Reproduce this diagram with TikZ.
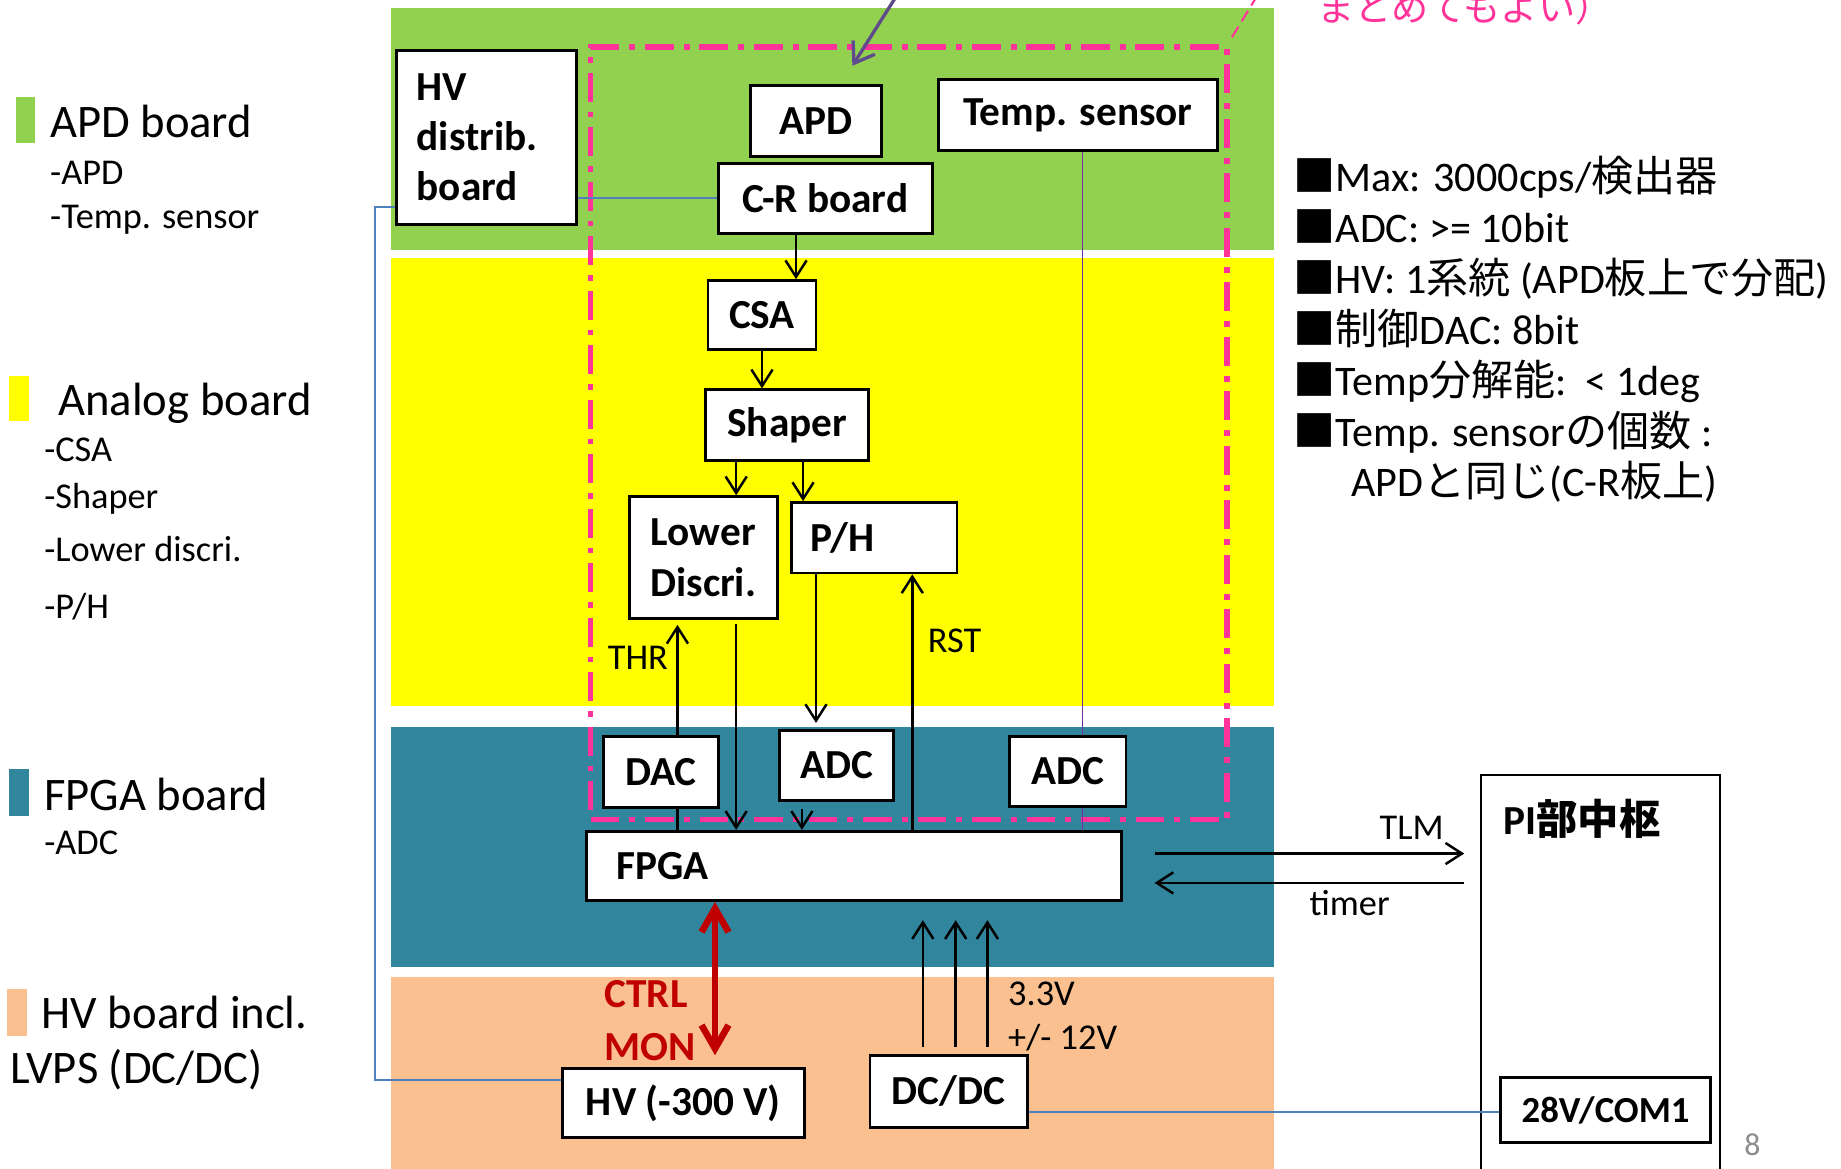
\documentclass[tikz,border=0pt]{standalone}
\usepackage{fontspec}
\usepackage{tikz}
\usepackage{xcolor}
\usetikzlibrary{arrows.meta, calc, positioning}
\setmainfont{Carlito}
\newfontfamily\jp{Noto Sans CJK JP}
\definecolor{APD_Green}{HTML}{92D050}
\definecolor{Analog_Yellow}{HTML}{FFFF00}
\definecolor{FPGA_Teal}{HTML}{31859C}
\definecolor{HV_Peach}{HTML}{FAC090}
\definecolor{Group_Pink}{HTML}{FF3399}
\definecolor{Note_Violet}{HTML}{5F4B8B}
\definecolor{Wire_Blue}{HTML}{4F81BD}
\definecolor{Temp_Purple}{HTML}{7030A0}
\definecolor{Ctrl_Red}{HTML}{C00000}
\definecolor{Page_Gray}{HTML}{8C8C8C}
\newcommand{\boxfont}{\fontsize{10}{12.2}\selectfont\bfseries}
\newcommand{\headfont}{\fontsize{11.3}{13}\selectfont}
\newcommand{\itemfont}{\fontsize{8.8}{10}\selectfont}
\newcommand{\specfont}{\fontsize{10.2}{12}\selectfont}
\newcommand{\notefont}{\fontsize{9}{10}\selectfont}
\tikzset{
    blk/.style={draw, fill=white, line width=0.7pt, inner sep=0pt, font=\boxfont},
    wh/.style 2 args={minimum width=#1*0.01cm, minimum height=#2*0.01cm},
    txt/.style={inner sep=0pt, anchor=base west},
    sig/.style={-{Straight Barb[length=1.4mm, width=1.8mm]}, line width=0.6pt},
    wire/.style={Wire_Blue, line width=0.5pt},
    tline/.style={Temp_Purple, line width=0.4pt},
    ctrl/.style={{Straight Barb[length=2mm, width=2.3mm]}-{Straight Barb[length=2mm, width=2.3mm]}, line width=1.6pt, Ctrl_Red},
}

\begin{document}
\begin{tikzpicture}[x=0.01cm, y=-0.01cm]
    \useasboundingbox (0,0) rectangle (1568,995);
    \fill[APD_Green]     (333,7)   rectangle (1085,213);
    \fill[Analog_Yellow] (333,220) rectangle (1085,601);
    \fill[FPGA_Teal]     (333,619) rectangle (1085,824);
    \fill[HV_Peach]      (333,832) rectangle (1085,1010);

    \fill[APD_Green]     (14,83)  rectangle (30,122);
    \fill[Analog_Yellow] (8,320)  rectangle (25,359);
    \fill[FPGA_Teal]     (8,655)  rectangle (25,695);
    \fill[HV_Peach]      (6,842)  rectangle (23,882);
    \node[txt, font=\headfont] (lg-apd) at (42,117) {APD board};
    \node[txt, font=\itemfont] (lg-apd1) at (42,157) {-APD};
    \node[txt, font=\itemfont] (lg-apd2) at (42,195) {-Temp. sensor};
    \node[txt, font=\headfont] (lg-ana) at (49,354) {Analog board};
    \foreach \yy/\lbl [count=\i] in {393/-CSA, 433/-Shaper, 478/{-Lower discri.}, 527/{-P/H}}
        \node[txt, font=\itemfont] (lg-ana\i) at (37,\yy) {\lbl};
    \node[txt, font=\headfont] (lg-fpga) at (37,690) {FPGA board};
    \node[txt, font=\itemfont] (lg-fpga1) at (37,728) {-ADC};
    \node[txt, font=\headfont] (lg-hv) at (35,876) {HV board incl.};
    \node[txt, font=\headfont] (lg-lvps) at (8,923) {LVPS (DC/DC)};

    \node[draw=Group_Pink, line width=1.3pt, dash pattern=on 7pt off 2.4pt on 1.4pt off 2.4pt,
        wh={542}{658}, inner sep=0pt] (grp) at (774,369) {};
    \coordinate (grp-tail) at (1071,-4);
    \draw[Group_Pink, line width=0.5pt, dash pattern=on 3pt off 1.5pt] ($(grp.north east)+(2,-6)$) -- (grp-tail);
    \node[txt, font=\notefont, text=Group_Pink] (note) at (1121,18) {\jp まとめてもよい）};
    \coordinate (note-tail) at (774,-20);
    \coordinate (note-tip) at (726,56);
    \draw[Note_Violet, line width=0.8pt, -{Straight Barb[length=1.6mm, width=2.2mm]}] (note-tail) -- (note-tip);

    \node[blk, wh={153}{148}, inner xsep=0.17cm, text width=1.19cm, align=left] (hvd) at (414.5,117) {HV\\distrib.\\board};
    \node[blk, wh={112}{60}] (apd) at (695,103) {APD};
    \node[blk, wh={238}{60}] (tmp) at (918,98) {Temp. sensor};
    \node[blk, wh={182}{60}] (crb) at (703,169) {C-R board};
    \node[blk, wh={92}{59}] (csa) at (649,268.5) {CSA};
    \node[blk, wh={139}{60}] (shp) at (670.5,362) {Shaper};
    \node[blk, wh={126}{104}, align=center] (lwd) at (599,475) {Lower\\Discri.};
    \node[blk, wh={141}{60}, inner xsep=0.16cm, text width=1.09cm, align=left] (ph) at (744.5,458) {P/H};
    \node[blk, wh={98}{61}] (dac) at (563,657.5) {DAC};
    \node[blk, wh={97}{60}] (adca) at (712.5,652) {ADC};
    \node[blk, wh={99}{60}] (adcb) at (909.5,657) {ADC};
    \node[blk, wh={455}{59}, inner xsep=0.25cm, text width=4.05cm, align=left] (fpga) at (727.5,737.5) {FPGA};
    \node[blk, wh={206}{59}] (hv) at (582,939.5) {HV (-300 V)};
    \node[blk, wh={134}{61}] (dcdc) at (808,929.5) {DC/DC};
    \node[blk, wh={204}{360}, line width=0.5pt] (pi) at (1363,840) {};
    \node[txt, font=\boxfont] (pi-lbl) at (1280,711) {PI{\jp 部中枢}};
    \node[blk, wh={179}{55}, font=\fontsize{8.9}{10}\selectfont\bfseries] (com) at (1367.5,945.5) {28V/COM1};

    \draw[wire] (crb.west) -- (crb.west -| hvd.east);
    \draw[wire] ($(hvd.west)+(0,59)$) -- ++(-17,0) |- ($(hv.west)+(0,-19.5)$);
    \draw[wire] ($(dcdc.east)+(0,17.5)$) -- ($(com.west)+(0,1.5)$);

    \draw[sig] ($(crb.south)+(-25,0)$) -- ($(csa.north)+(29,0)$);
    \draw[sig] (csa.south) -- (csa.south |- shp.north);
    \draw[sig] ($(shp.south)+(-43.5,0)$) -- ($(lwd.north)+(28,0)$);
    \draw[sig] ($(shp.south)+(13.5,0)$) -- ($(ph.north)+(-60.5,0)$);
    \draw[sig] ($(dac.north)+(14,0)$) -- node[left=2pt, pos=0.7, inner sep=0pt, font=\itemfont] (thr) {THR} ($(lwd.south)+(-22,4)$);
    \draw[line width=0.6pt] ($(dac.south)+(14,0)$) -- ($(fpga.north)+(-150.5,0)$);
    \draw[sig] ($(lwd.south)+(28,3)$) -- ($(fpga.north)+(-100.5,0)$);
    \draw[sig] ($(ph.south)+(-49.5,0)$) -- ($(adca.north)+(-17.5,-5)$);
    \draw[sig] ($(adca.south)+(-29.5,6)$) -- ($(fpga.north)+(-44.5,0)$);
    \draw[sig] ($(fpga.north)+(49.5,0)$) -- node[right=3.5pt, pos=0.74, inner sep=0pt, font=\itemfont] (rst) {RST} ($(ph.south)+(32.5,0)$);
    \draw[tline] ($(tmp.south)+(4,0)$) -- ($(adcb.north)+(12.5,0)$);
    \draw[tline] ($(adcb.south)+(12.5,0)$) -- ($(fpga.north)+(194.5,0)$);

    \draw[sig] ($(fpga.east)+(27,-10.5)$) -- node[above=3pt, pos=0.83, inner sep=0pt, font=\itemfont] (tlm) {TLM} ($(pi.west |- fpga.east)+(-13,-10.5)$);
    \draw[sig] ($(pi.west |- fpga.east)+(-13,14.5)$) -- node[below=1.5pt, pos=0.37, inner sep=0pt, font=\itemfont] (tmr) {timer} ($(fpga.east)+(27,14.5)$);

    \draw[ctrl] ($(fpga.south)+(-118.5,0)$) -- ($(hv.north)+(27,-10)$);
    \node[txt, font=\boxfont, text=Ctrl_Red] (ctrl) at (514,858) {CTRL};
    \node[txt, font=\boxfont, text=Ctrl_Red] (mon) at (514,903) {MON};

    \foreach \dx in {-22,6,33}
        \draw[sig] ($(dcdc.north)+(\dx,-6)$) -- ($(dcdc.north)+(\dx,-114)$);
    \node[txt, font=\itemfont] (v33) at (858,856) {3.3V};
    \node[txt, font=\itemfont] (v12) at (858,894) {+/- 12V};

    \foreach \lbl [count=\i] in {
        {{\jp ■}Max: 3000cps/{\jp 検出器}},
        {{\jp ■}ADC: >= 10bit},
        {{\jp ■}HV: 1{\jp 系統} (APD{\jp 板上で分配})},
        {{\jp ■制御}DAC: 8bit},
        {{\jp ■}Temp{\jp 分解能}:\ \ < 1deg},
        {{\jp ■}Temp. sensor{\jp の個数} :}}
        \node[txt, font=\specfont] (spec\i) at (1101,{163+43.4*(\i-1)}) {\lbl};
    \node[txt, font=\specfont] (spec7) at (1150,423) {APD{\jp と同じ}(C-R{\jp 板上})};

    \node[txt, font=\fontsize{7.7}{9}\selectfont, text=Page_Gray] (pgno) at (1485,984) {8};
\end{tikzpicture}
\end{document}
